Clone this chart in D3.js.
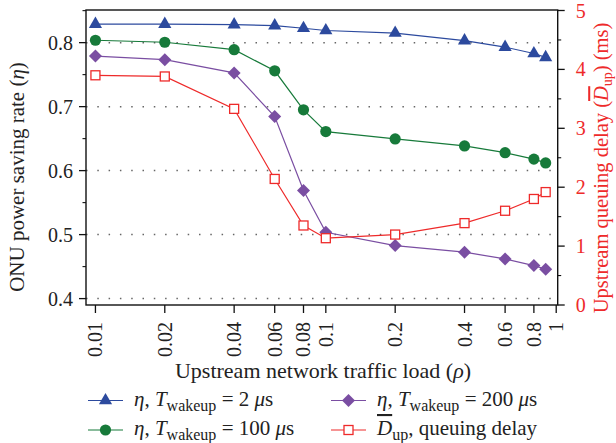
<!DOCTYPE html>
<html><head><meta charset="utf-8">
<script src="https://cdnjs.cloudflare.com/ajax/libs/d3/7.8.5/d3.min.js"></script>
<style>
html,body{margin:0;padding:0;background:#fff;}
svg{display:block;font-family:"Liberation Serif","DejaVu Serif",serif;}
</style></head>
<body><svg id="c" width="616" height="443"></svg>
<script>
// ---- data ----
const loads = [0.01, 0.02, 0.04, 0.06, 0.08, 0.1, 0.2, 0.4, 0.6, 0.8, 0.9];
const eta2 = [0.829, 0.829, 0.828, 0.8266, 0.8225, 0.819, 0.815, 0.803, 0.793, 0.783, 0.777];
const eta100 = [0.8037, 0.8006, 0.789, 0.756, 0.695, 0.661, 0.6495, 0.6386, 0.628, 0.618, 0.612];
const eta200 = [0.779, 0.7734, 0.7527, 0.6844, 0.5688, 0.5037, 0.4828, 0.4725, 0.462, 0.4516, 0.446];
const delayUp = [3.90, 3.88, 3.33, 2.14, 1.35, 1.134, 1.196, 1.39, 1.60, 1.80, 1.917];
const xTicks = [0.01, 0.02, 0.04, 0.06, 0.08, 0.1, 0.2, 0.4, 0.6, 0.8, 1];
const xTickLabels = ["0.01","0.02","0.04","0.06","0.08","0.1","0.2","0.4","0.6","0.8","1"];
const yLeftTicks = [0.4, 0.5, 0.6, 0.7, 0.8];
const yRightTicks = [0, 1, 2, 3, 4, 5];

const C = {blue:"#2C4A9E", green:"#177A3A", purple:"#7A4EA2", red:"#EE2A2A"};

const svg = d3.select("#c");
const L = 86, R = 557.7, T = 10, B = 305;
const x = d3.scaleLog().domain([0.0091, 1.015]).range([L, R]);
const yL = d3.scaleLinear().domain([0.39, 0.851]).range([B, T]);
const yR = d3.scaleLinear().domain([0, 5]).range([B, 10.5]);

// grid
svg.append("g").selectAll("line").data(yLeftTicks).join("line")
  .attr("x1", L).attr("x2", R).attr("y1", d=>yL(d)).attr("y2", d=>yL(d))
  .attr("stroke", "#666").attr("stroke-width", 1.5).attr("stroke-dasharray", "1.5,9.8");

// frame
svg.append("rect").attr("x", L).attr("y", T).attr("width", R-L).attr("height", B-T)
  .attr("fill", "none").attr("stroke", "#111").attr("stroke-width", 1.4);

// left axis ticks
const gL = svg.append("g");
gL.selectAll("line.maj").data(yLeftTicks).join("line").attr("class","maj")
  .attr("x1", L-7).attr("x2", L).attr("y1", d=>yL(d)).attr("y2", d=>yL(d))
  .attr("stroke", "#111").attr("stroke-width", 1.3);
gL.selectAll("line.min").data([0.45,0.55,0.65,0.75,0.85]).join("line").attr("class","min")
  .attr("x1", L-3.5).attr("x2", L).attr("y1", d=>yL(d)).attr("y2", d=>yL(d))
  .attr("stroke", "#111").attr("stroke-width", 1.1);
gL.selectAll("text").data(yLeftTicks).join("text")
  .attr("x", L-13).attr("y", d=>yL(d)).attr("dy", "0.35em").attr("text-anchor", "end")
  .attr("font-size", 20).attr("fill", "#222").text(d=>d.toFixed(1));

// right axis ticks
const gR = svg.append("g");
gR.selectAll("line.maj").data(yRightTicks).join("line").attr("class","maj")
  .attr("x1", R).attr("x2", R+7).attr("y1", d=>yR(d)).attr("y2", d=>yR(d))
  .attr("stroke", "#111").attr("stroke-width", 1.3);
gR.selectAll("line.min").data([0.5,1.5,2.5,3.5,4.5]).join("line").attr("class","min")
  .attr("x1", R).attr("x2", R+3.5).attr("y1", d=>yR(d)).attr("y2", d=>yR(d))
  .attr("stroke", "#111").attr("stroke-width", 1.1);
gR.selectAll("text").data(yRightTicks).join("text")
  .attr("x", R+18).attr("y", d=>yR(d)).attr("dy", "0.35em").attr("text-anchor", "start")
  .attr("font-size", 20).attr("fill", C.red).text(d=>d);

// bottom axis ticks
const gB = svg.append("g");
gB.selectAll("line").data(xTicks).join("line")
  .attr("x1", d=>x(d)).attr("x2", d=>x(d)).attr("y1", B).attr("y2", B+8)
  .attr("stroke", "#111").attr("stroke-width", 1.3);
gB.selectAll("text").data(xTicks).join("text")
  .attr("transform", d=>`translate(${x(d)},${B+17}) rotate(-90)`)
  .attr("dy", "0.35em").attr("text-anchor", "end")
  .attr("font-size", 20).attr("fill", "#222").text((d,i)=>xTickLabels[i]);

// axis titles
svg.append("text").attr("x", 323).attr("y", 378).attr("text-anchor", "middle")
  .attr("font-size", 22).attr("fill", "#222")
  .html('Upstream network traffic load (<tspan font-style="italic">ρ</tspan>)');
svg.append("text").attr("transform", "translate(17,177) rotate(-90)").attr("dy", "0.35em")
  .attr("text-anchor", "middle").attr("font-size", 21).attr("fill", "#222")
  .html('ONU power saving rate (<tspan font-style="italic">η</tspan>)');
svg.append("text").attr("transform", "translate(601,168) rotate(-90)").attr("dy", "0.35em")
  .attr("text-anchor", "middle").attr("font-size", 20.5).attr("fill", C.red)
  .html('Upstream queuing delay (<tspan font-style="italic" text-decoration="overline">D</tspan><tspan font-size="14" dy="4">up</tspan><tspan dy="-4">) (ms)</tspan>');

// markers
function drawMarker(g, type, color, cx, cy) {
  if (type === "tri") {
    g.append("path").attr("d", d3.symbol(d3.symbolTriangle, 75)())
      .attr("transform", `translate(${cx},${cy})`).attr("fill", color);
  } else if (type === "circ") {
    g.append("circle").attr("cx", cx).attr("cy", cy).attr("r", 5.6).attr("fill", color);
  } else if (type === "dia") {
    g.append("path").attr("d", "M0,-6.5L6.5,0L0,6.5L-6.5,0Z")
      .attr("transform", `translate(${cx},${cy})`).attr("fill", color);
  } else {
    g.append("rect").attr("x", cx-4.5).attr("y", cy-4.5).attr("width", 9).attr("height", 9)
      .attr("fill", "#fff").attr("stroke", color).attr("stroke-width", 1.3);
  }
}

const series = [
  {vals: eta2, y: yL, color: C.blue, type: "tri"},
  {vals: eta100, y: yL, color: C.green, type: "circ"},
  {vals: eta200, y: yL, color: C.purple, type: "dia"},
  {vals: delayUp, y: yR, color: C.red, type: "sq"}
];
series.forEach(s => {
  const g = svg.append("g");
  const line = d3.line().x((d,i)=>x(loads[i])).y(d=>s.y(d));
  g.append("path").attr("d", line(s.vals)).attr("fill", "none")
    .attr("stroke", s.color).attr("stroke-width", 1.2);
  s.vals.forEach((v,i)=>drawMarker(g, s.type, s.color, x(loads[i]), s.y(v)));
});

// legend
const sub = (t) => `<tspan font-size="16" dy="5">${t}</tspan>`;
const legend = [
  {type:"tri", color:C.blue, col:0, row:0, html:'<tspan font-style="italic">η</tspan>, <tspan font-style="italic">T</tspan>' + sub("wakeup") + '<tspan dy="-5"> = 2 </tspan><tspan font-style="italic">μ</tspan>s'},
  {type:"circ", color:C.green, col:0, row:1, html:'<tspan font-style="italic">η</tspan>, <tspan font-style="italic">T</tspan>' + sub("wakeup") + '<tspan dy="-5"> = 100 </tspan><tspan font-style="italic">μ</tspan>s'},
  {type:"dia", color:C.purple, col:1, row:0, html:'<tspan font-style="italic">η</tspan>, <tspan font-style="italic">T</tspan>' + sub("wakeup") + '<tspan dy="-5"> = 200 </tspan><tspan font-style="italic">μ</tspan>s'},
  {type:"sq", color:C.red, col:1, row:1, html:'<tspan font-style="italic" text-decoration="overline">D</tspan>' + sub("up") + '<tspan dy="-5">, queuing delay</tspan>'}
];
const colX = [88, 331], rowY = [400.5, 430];
legend.forEach(d => {
  const g = svg.append("g");
  const x0 = colX[d.col], y0 = rowY[d.row];
  g.append("line").attr("x1", x0).attr("x2", x0+35).attr("y1", y0).attr("y2", y0)
    .attr("stroke", d.color).attr("stroke-width", 1.2);
  drawMarker(g, d.type, d.color, x0+17.5, y0);
  g.append("text").attr("x", x0+46).attr("y", y0+5).attr("font-size", 21)
    .attr("fill", "#222").html(d.html);
});
</script></body></html>
